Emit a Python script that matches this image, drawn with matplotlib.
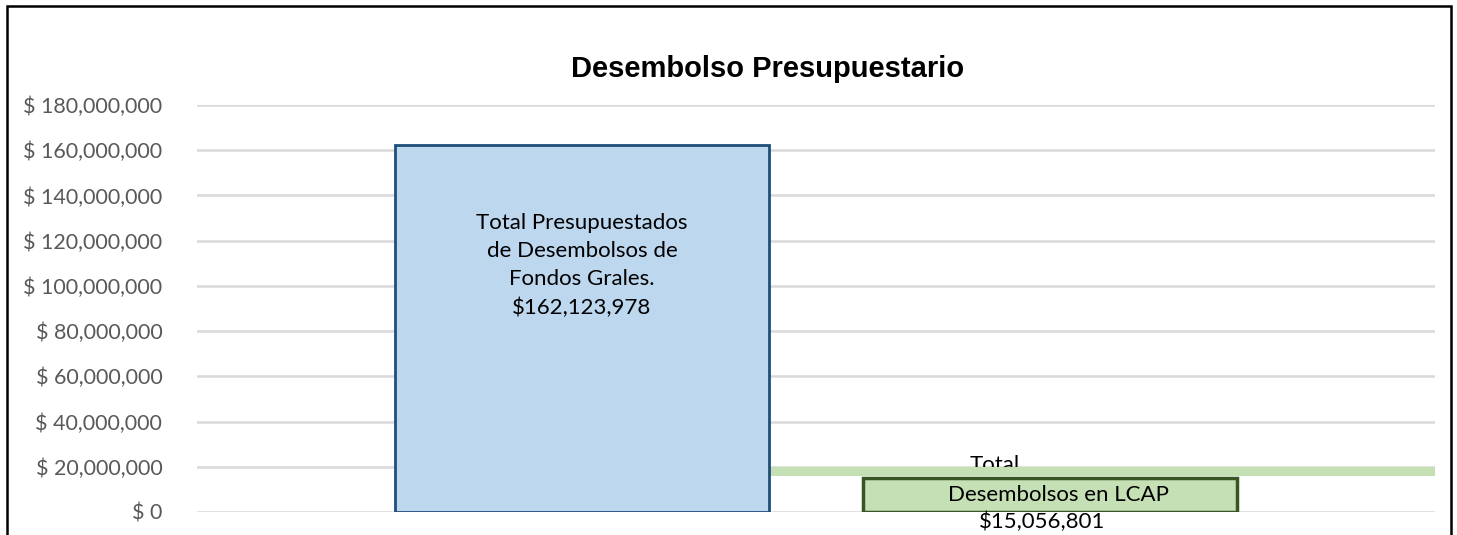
import matplotlib.pyplot as plt
from matplotlib.patches import Rectangle
from matplotlib.ticker import FuncFormatter

# values
categories = ["Total Presupuestados\nde Desembolsos de\nFondos Grales.", "Desembolsos en LCAP"]
values = [162123978, 15056801]
y_ticks = list(range(0, 180000001, 20000000))

W, H = 1457, 535
fig = plt.figure(figsize=(W / 100, H / 100), dpi=100)

def px(x0, y0, x1, y1):
    return [x0 / W, 1 - y1 / H, (x1 - x0) / W, (y1 - y0) / H]

ax = fig.add_axes(px(197, 105, 1435, 512))
ax.set_xlim(0, 1)
ax.set_ylim(0, 180000000)

for s in ax.spines.values():
    s.set_visible(False)
ax.set_xticks([])
ax.set_yticks(y_ticks)
ax.yaxis.set_major_formatter(FuncFormatter(lambda v, p: "$ {:,.0f}".format(v)))
ax.tick_params(axis="y", length=0, pad=25, labelsize=15.5, labelcolor="#595959")
for lbl in ax.get_yticklabels():
    lbl.set_fontfamily("Lato")
ax.grid(axis="y", color="#d9d9d9", linewidth=1.8)
ax.set_axisbelow(True)

# light green strip behind the second bar
ax.add_patch(Rectangle((0.462, 15900000), 0.538, 4100000, facecolor="#c5e0b4",
                       edgecolor="none", zorder=2))

centers = [0.311, 0.689]
width = 0.302
ax.bar(centers[0], values[0], width, color="#bdd7ee", edgecolor="#1f4e79",
       linewidth=2, zorder=3)
ax.bar(centers[1], values[1], width, color="#c5e0b4", edgecolor="#375623",
       linewidth=2.5, zorder=3)

ax.text(centers[0], 109000000, categories[0] + "\n${:,.0f}".format(values[0]),
        ha="center", va="center", fontsize=16, family="Lato",
        linespacing=1.5, zorder=5)
ax.text(0.644, 20800000, "Total", ha="center", va="center", fontsize=16,
        family="Lato", zorder=1)
ax.text(0.696, 7400000, categories[1], ha="center", va="center", fontsize=16,
        family="Lato", zorder=5)
ax.text(0.683, -4300000, "${:,.0f}".format(values[1]), ha="center", va="center",
        fontsize=16, family="Lato", zorder=5, clip_on=False)

fig.text(768 / W, 1 - 69 / H, "Desembolso Presupuestario", ha="center", va="center",
         fontsize=21, fontweight="bold", family="Liberation Sans")

# chart frame
fig.patches.append(Rectangle((7 / W, -0.1), (1451 - 7) / W, 1.1 - 6 / H,
                             transform=fig.transFigure, fill=False,
                             edgecolor="black", linewidth=1.8))

fig.savefig("out.png", dpi=100)
